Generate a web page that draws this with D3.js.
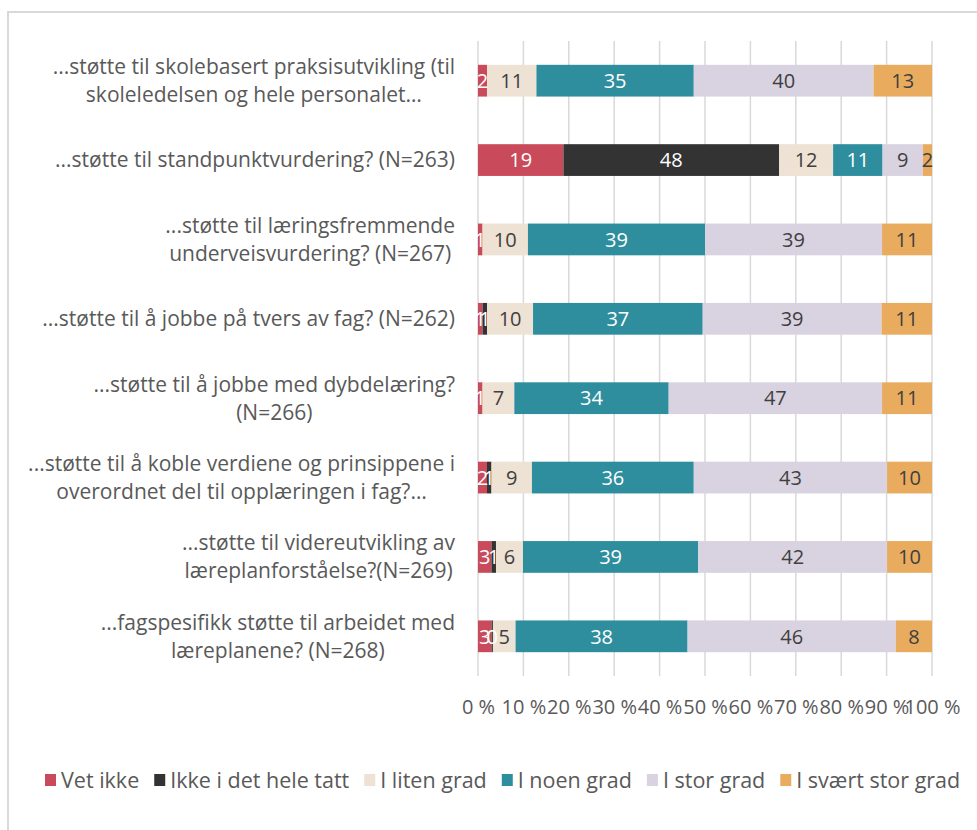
<!DOCTYPE html>
<html>
<head>
<meta charset="utf-8">
<script src="https://cdn.jsdelivr.net/npm/d3@7"></script>
<style>
  body { margin: 0; background: #fff; }
  text { font-family: 'Open Sans', sans-serif; }
</style>
</head>
<body>
<svg id="chart" width="977" height="830"></svg>
<script>
// question labels, already wrapped the way the original shows them
var categories = [
  ['...støtte til skolebasert praksisutvikling (til', 'skoleledelsen og hele personalet…'],
  ['...støtte til standpunktvurdering? (N=263)'],
  ['...støtte til læringsfremmende', 'underveisvurdering? (N=267)'],
  ['...støtte til å jobbe på tvers av fag? (N=262)'],
  ['...støtte til å jobbe med dybdelæring?', '(N=266)'],
  ['...støtte til å koble verdiene og prinsippene i', 'overordnet del til opplæringen i fag?…'],
  ['...støtte til videreutvikling av', 'læreplanforståelse?(N=269)'],
  ['...fagspesifikk støtte til arbeidet med', 'læreplanene? (N=268)']
]

var seriesNames = ['Vet ikke', 'Ikke i det hele tatt', 'I liten grad', 'I noen grad', 'I stor grad', 'I svært stor grad']
var seriesColors = ['#c94a5a', '#333333', '#ede2d3', '#2e8e9e', '#d9d2e0', '#e9ac5f']
var labelColors = ['#fff', '#fff', '#404040', '#fff', '#404040', '#404040']

// one array per series, in category order (null = empty cell)
var vetIkke    = [2, 19, 1, 1, 1, 2, 3, 3]
var ikkeIDet   = [null, 48, null, 1, null, 1, 1, 0.3]
var litenGrad  = [11, 12, 10, 10, 7, 9, 6, 5]
var noenGrad   = [35, 11, 39, 37, 34, 36, 39, 38]
var storGrad   = [40, 9, 39, 39, 47, 43, 42, 46]
var sværtStor  = [13, 2, 11, 11, 11, 10, 10, 8]

var xTicks = [0, 10, 20, 30, 40, 50, 60, 70, 80, 90, 100]

var seriesValues = [vetIkke, ikkeIDet, litenGrad, noenGrad, storGrad, sværtStor]

var rows = categories.map((c, i) => {
  var row = {i: i}
  seriesNames.forEach((s, j) => row[s] = seriesValues[j][i] || 0)
  return row
})

var stack = d3.stack().keys(seriesNames).offset(d3.stackOffsetExpand)(rows)

var svg = d3.select('#chart')

// chart area border (runs off the right and bottom edges)
svg.append('rect')
  .attr('x', 8).attr('y', 12).attr('width', 1000).attr('height', 900)
  .attr('fill', 'none').attr('stroke', '#d9d9d9').attr('stroke-width', 2)

var x = d3.scaleLinear().domain([0, 100]).range([478, 932])
var y = d3.scaleBand().domain(d3.range(categories.length)).range([41, 676])
  .paddingInner(0.6).paddingOuter(0.3)

// gridlines
svg.append('g').selectAll('line').data(xTicks).join('line')
  .attr('x1', d => x(d)).attr('x2', d => x(d))
  .attr('y1', 41).attr('y2', 676)
  .attr('stroke', '#d9d9d9').attr('stroke-width', 1.5)

// x axis labels
var xAxis = svg.append('g')
  .attr('transform', 'translate(0,' + 700 + ')')
  .call(d3.axisBottom(x).tickValues(xTicks).tickSize(0).tickPadding(0).tickFormat(d => d + ' %'))
xAxis.select('.domain').remove()
xAxis.selectAll('text')
  .attr('fill', '#595959').attr('font-size', 20).attr('dy', '0.71em')
  .attr('font-family', "'Open Sans', sans-serif")

// bars
var groups = svg.append('g').selectAll('g').data(stack).join('g')
  .attr('fill', (d, i) => seriesColors[i])

groups.selectAll('rect').data(d => d).join('rect')
  .attr('x', d => x(d[0] * 100))
  .attr('width', d => x(d[1] * 100) - x(d[0] * 100))
  .attr('y', (d, i) => y(i))
  .attr('height', y.bandwidth())

// value labels
stack.forEach((s, j) => {
  svg.append('g').selectAll('text')
    .data(s.filter((d, i) => seriesValues[j][i] != null))
    .join('text')
    .attr('x', d => x((d[0] + d[1]) / 2 * 100))
    .attr('y', d => y(d.data.i) + y.bandwidth() / 2)
    .attr('dy', '0.36em')
    .attr('text-anchor', 'middle')
    .attr('font-size', 20)
    .attr('fill', labelColors[j])
    .text(d => Math.round(seriesValues[j][d.data.i]))
})

// category labels: block right-aligned to the axis, lines centred in the block
var lineH = 28
categories.forEach((lines, i) => {
  var g = svg.append('g')
  var cy = y(i) + y.bandwidth() / 2
  var texts = g.selectAll('text').data(lines).join('text')
    .attr('y', (d, k) => cy + (k - (lines.length - 1) / 2) * lineH)
    .attr('dy', '0.35em')
    .attr('text-anchor', 'middle')
    .attr('font-size', 21)
    .attr('fill', '#595959')
    .text(d => d)
  var w = d3.max(texts.nodes(), n => n.getComputedTextLength())
  texts.attr('x', 455 - w / 2)
})

// legend
var lx = 45
var legend = svg.append('g').attr('transform', 'translate(0,780)')
seriesNames.forEach((s, j) => {
  legend.append('rect')
    .attr('x', lx).attr('y', -6).attr('width', 11).attr('height', 12)
    .attr('fill', seriesColors[j])
  var t = legend.append('text')
    .attr('x', lx + 16).attr('dy', '0.35em')
    .attr('font-size', 21.5).attr('fill', '#595959')
    .text(s)
  lx += 16 + t.node().getComputedTextLength() + 15
})
</script>
</body>
</html>
